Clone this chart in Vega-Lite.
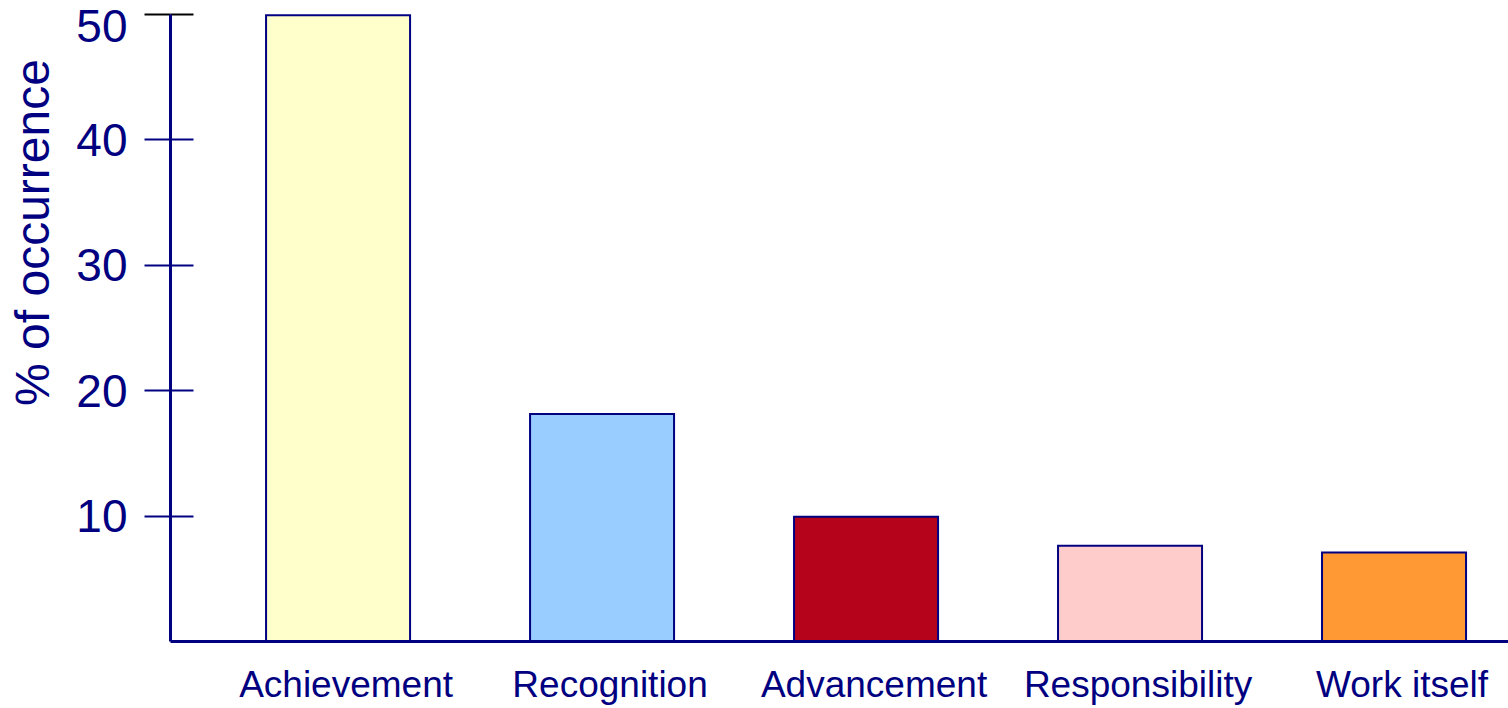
{
  "$schema": "https://vega.github.io/schema/vega-lite/v6.json",
  "autosize": {"type": "none"},
  "padding": {"left": 170, "top": 14, "right": 0, "bottom": 67},
  "width": 1338,
  "height": 627,
  "background": "white",
  "config": {
    "view": {"stroke": null},
    "font": "Liberation Sans"
  },
  "data": {
    "values": [
      {"factor": "Achievement", "pct": 49.9},
      {"factor": "Recognition", "pct": 18.1},
      {"factor": "Advancement", "pct": 9.9},
      {"factor": "Responsibility", "pct": 7.6},
      {"factor": "Work itself", "pct": 7.05}
    ]
  },
  "layer": [
    {
      "mark": {"type": "bar", "fillOpacity": 0, "strokeOpacity": 0},
      "encoding": {
        "x": {"field": "factor", "type": "nominal", "sort": null},
        "y": {
          "field": "pct", "type": "quantitative",
          "scale": {"domain": [0, 50], "nice": false},
          "axis": {
            "orient": "left",
            "values": [10, 20, 30, 40, 50],
            "domain": false,
            "labels": false,
            "grid": false,
            "title": null,
            "tickSize": -23,
            "tickWidth": 2,
            "tickColor": {"condition": {"test": "datum.value == 50", "value": "#000000"}, "value": "#000080"}
          }
        }
      }
    },
    {
      "mark": {"type": "bar", "stroke": "#000080", "strokeWidth": 2},
      "encoding": {
        "x": {
          "field": "factor", "type": "nominal", "sort": null,
          "scale": {"paddingInner": 0.4545, "paddingOuter": 0.2614, "align": 0.696},
          "axis": {
            "title": null,
            "labelAngle": 0,
            "labelAlign": "center",
            "labelBaseline": "top",
            "labelLimit": 0,
            "labelOffset": 8,
            "ticks": false,
            "domainColor": "#000080",
            "domainWidth": 3,
            "labelColor": "#000080",
            "labelFontSize": 37,
            "labelFont": "Liberation Sans",
            "labelPadding": 26
          }
        },
        "y": {
          "field": "pct", "type": "quantitative",
          "scale": {"domain": [0, 50], "nice": false},
          "axis": {
            "orient": "left",
            "values": [10, 20, 30, 40, 50],
            "grid": false,
            "title": "% of occurrence",
            "titleFont": "Liberation Sans",
            "titleFontSize": 48,
            "titleFontWeight": "normal",
            "titleColor": "#000080",
            "titlePadding": 17,
            "titleY": 218,
            "domainColor": "#000080",
            "domainWidth": 3,
            "tickSize": 26,
            "tickWidth": 2,
            "tickColor": {"condition": {"test": "datum.value == 50", "value": "#000000"}, "value": "#000080"},
            "labelColor": "#000080",
            "labelFont": "Liberation Sans",
            "labelFontSize": 46,
            "labelPadding": 17,
            "labelFlush": true,
            "labelFlushOffset": 11,
            "labelOffset": 2
          }
        },
        "color": {
          "field": "factor", "type": "nominal", "legend": null,
          "scale": {
            "domain": ["Achievement", "Recognition", "Advancement", "Responsibility", "Work itself"],
            "range": ["#FFFFCC", "#99CCFF", "#B5031B", "#FFCCCC", "#FF9933"]
          }
        }
      }
    }
  ],
  "resolve": {"axis": {"y": "independent"}}
}
